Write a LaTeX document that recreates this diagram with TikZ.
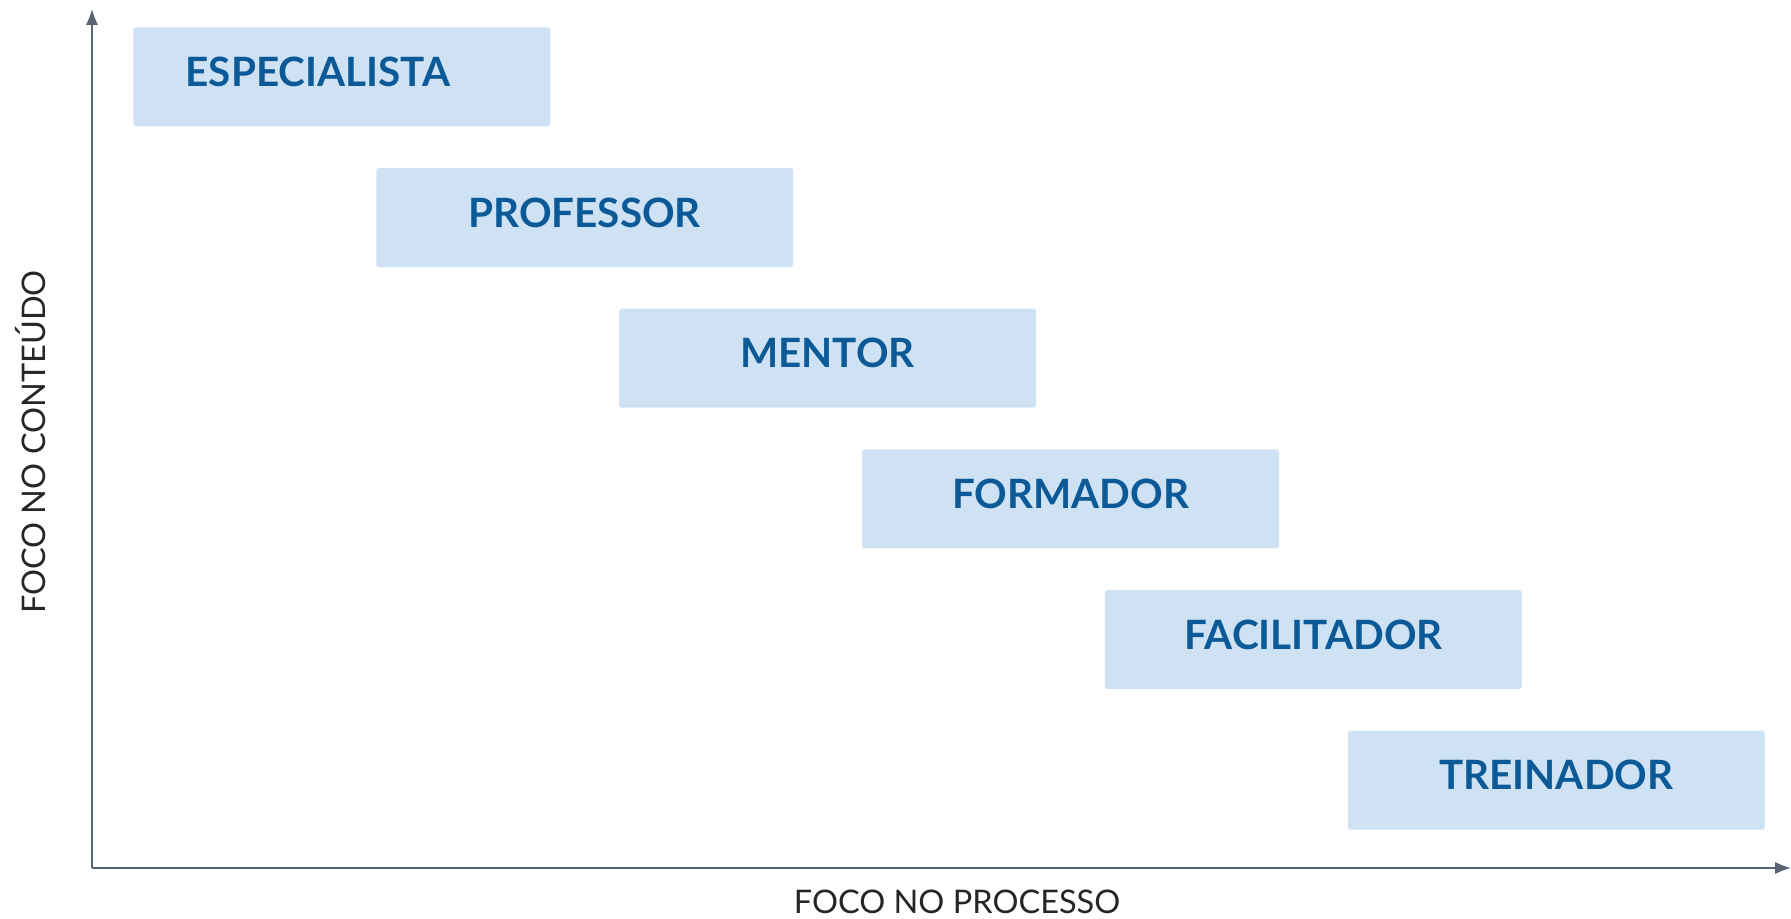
\documentclass[tikz,border=0pt]{standalone}
\usepackage{fontspec}
\setmainfont{Lato}
\usepackage{xcolor}
\usetikzlibrary{positioning,arrows.meta}
\definecolor{boxblue}{HTML}{CFE2F3}
\definecolor{roleblue}{HTML}{0B5A97}
\definecolor{axisgray}{HTML}{5B6475}

\begin{document}
\begin{tikzpicture}[x=0.02cm, y=-0.02cm, node distance=0.82cm and -3.495cm,
  role/.style={fill=boxblue, rounded corners=1.5pt, inner sep=0pt, minimum width=8.34cm, minimum height=1.98cm, text depth=0.2cm, text=roleblue, font=\fontsize{23}{28}\selectfont\bfseries},
  axis/.style={draw=axisgray, line width=1.1pt, -{Latex[length=9pt,width=7pt]}},
  axislabel/.style={text=black!85, font=\fontsize{18.5}{22}\selectfont}]
\useasboundingbox (0,0) rectangle (1791,919);

\node[role, anchor=north west] (especialista) at (133,27) {\hspace*{-0.96cm}ESPECIALISTA};
\node[role, below right=of especialista] (professor) {PROFESSOR};
\node[role, below right=of professor] (mentor) {MENTOR};
\node[role, below right=of mentor] (formador) {FORMADOR};
\node[role, below right=of formador] (facilitador) {FACILITADOR};
\node[role, below right=of facilitador] (treinador) {TREINADOR};

\coordinate (origin) at (92,868);
\coordinate (ytop) at (92,9);
\coordinate (xend) at (1791,868);
\draw[axis] (origin) -- (ytop);
\draw[axis] (origin) -- (xend);

\node[axislabel, rotate=90] (conteudo) at (31,442) {FOCO NO CONTEÚDO};
\node[axislabel] (processo) at (957,902) {FOCO NO PROCESSO};
\end{tikzpicture}
\end{document}
